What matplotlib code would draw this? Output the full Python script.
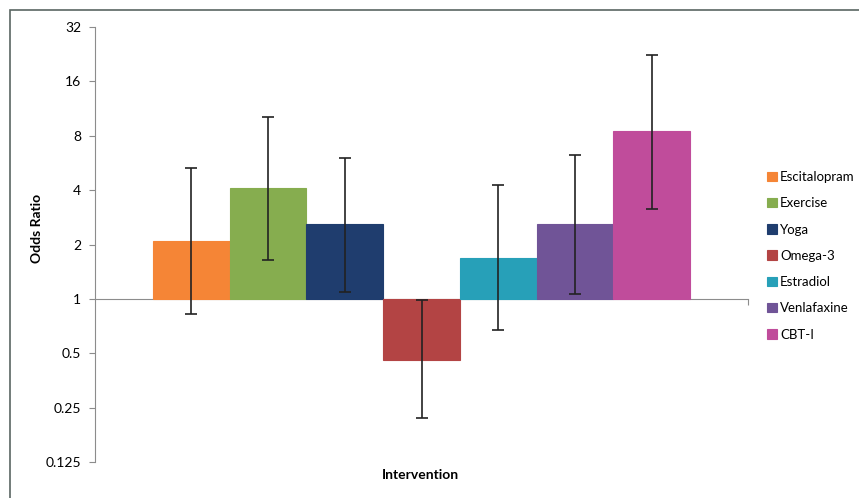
import matplotlib.pyplot as plt
from matplotlib.patches import Rectangle
from matplotlib.ticker import FixedLocator, NullFormatter

plt.rcParams['font.family'] = ['Lato', 'DejaVu Sans']

# Data (odds ratio with confidence interval)
interventions = ["Escitalopram", "Exercise", "Yoga", "Omega-3",
                 "Estradiol", "Venlafaxine", "CBT-I"]
odds_ratio = [2.09, 4.10, 2.59, 0.46, 1.69, 2.60, 8.47]
ci_low = [0.82, 1.64, 1.09, 0.22, 0.67, 1.06, 3.16]
ci_high = [5.31, 10.2, 6.06, 0.99, 4.27, 6.26, 22.5]
colors = ["#F58536", "#86AD4F", "#1F3D6E", "#B34444",
          "#27A0B8", "#705497", "#C04C9B"]
y_ticks = [0.125, 0.25, 0.5, 1, 2, 4, 8, 16, 32]
y_tick_labels = ["0.125", "0.25", "0.5", "1", "2", "4", "8", "16", "32"]

W, H = 859, 498
fig = plt.figure(figsize=(W / 100, H / 100), dpi=100)
ax = fig.add_axes([95 / W, 1 - 462 / H, (748 - 95) / W, (462 - 27) / H])

# Outer frame (top and left edges visible)
fig.patches.append(Rectangle((10 / W, -0.1), 1.2, 1 - 10 / H + 0.1,
                             transform=fig.transFigure, fill=False,
                             edgecolor="#5a6662", linewidth=1.2))

ax.set_yscale("log", base=2)
ax.set_ylim(0.125, 32)
ax.set_xlim(-0.5 - 0.752, 6.5 + 0.752)

# bars start at 1, so bottom=1 and height = value - 1
for i, name in enumerate(interventions):
    ax.bar(i, odds_ratio[i] - 1, bottom=1, width=1.0, color=colors[i],
           edgecolor=colors[i], linewidth=0.8, label=name, zorder=2)
    ax.errorbar(i, odds_ratio[i],
                yerr=[[odds_ratio[i] - ci_low[i]], [ci_high[i] - odds_ratio[i]]],
                fmt="none", ecolor="#222222", elinewidth=1.2, capsize=4,
                capthick=1.2, zorder=3)

# Axes styling: left axis gray, horizontal axis crossing at 1
for s in ["top", "right"]:
    ax.spines[s].set_visible(False)
ax.spines["left"].set_color("#8c8c8c")
ax.spines["bottom"].set_position(("data", 1))
ax.spines["bottom"].set_color("#8c8c8c")
ax.spines["bottom"].set_zorder(1)

ax.yaxis.set_major_locator(FixedLocator(y_ticks))
ax.set_yticklabels(y_tick_labels)
ax.yaxis.set_minor_formatter(NullFormatter())
ax.tick_params(axis="y", which="minor", length=0)
ax.tick_params(axis="y", which="major", length=4, color="#8c8c8c",
               labelsize=10, pad=6)
ax.set_xticks([ax.get_xlim()[1]])
ax.set_xticklabels([""])
ax.tick_params(axis="x", length=4, color="#8c8c8c")

fig.text(37 / W, 1 - 228 / H, "Odds Ratio", rotation=90, fontsize=10,
         fontweight="bold", ha="center", va="center")
fig.text(420 / W, 1 - 475 / H, "Intervention", fontsize=10,
         fontweight="bold", ha="center", va="center")

ax.legend(loc="upper left", bbox_to_anchor=(767 / W, 1 - 171 / H),
          bbox_transform=fig.transFigure, frameon=False, fontsize=9.5,
          handlelength=0.75, handleheight=0.75, handletextpad=0.25,
          labelspacing=1.08, borderaxespad=0, borderpad=0)

fig.savefig("out.png", dpi=100)
